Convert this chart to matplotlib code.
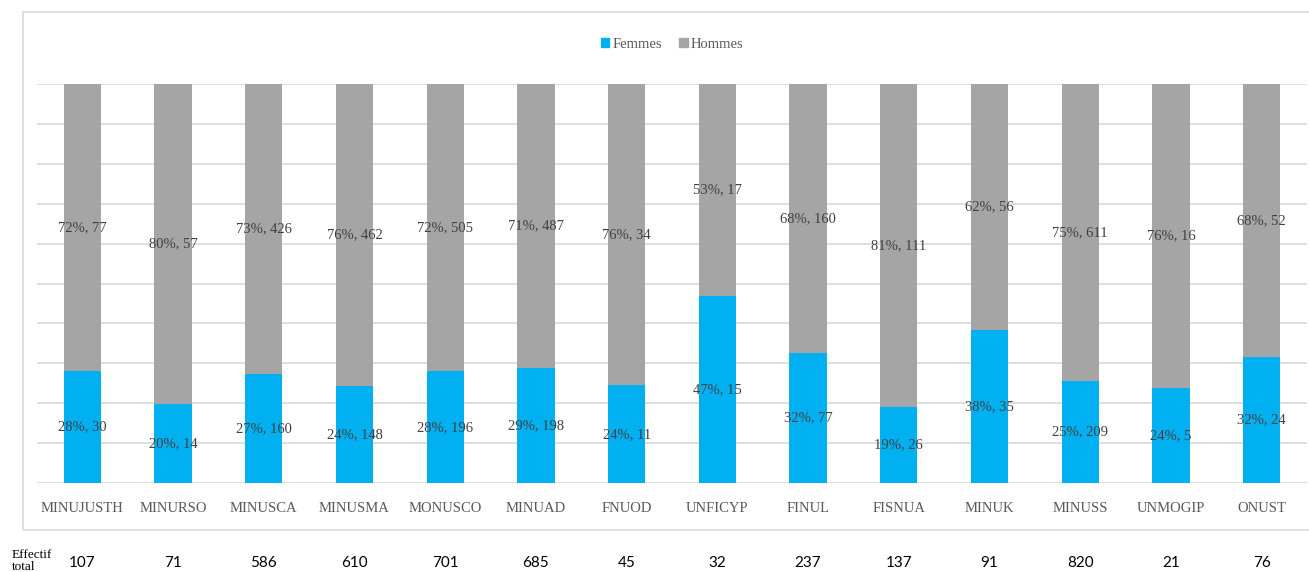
import matplotlib.pyplot as plt
import matplotlib.transforms as mtransforms
from matplotlib.patches import Rectangle, Patch

missions = ["MINUJUSTH", "MINURSO", "MINUSCA", "MINUSMA", "MONUSCO", "MINUAD", "FNUOD",
            "UNFICYP", "FINUL", "FISNUA", "MINUK", "MINUSS", "UNMOGIP", "ONUST"]
femmes = [30, 14, 160, 148, 196, 198, 11, 15, 77, 26, 35, 209, 5, 24]
hommes = [77, 57, 426, 462, 505, 487, 34, 17, 160, 111, 56, 611, 16, 52]

blue = "#00B0F0"
grey = "#A5A5A5"
serif = "Liberation Serif"

W, H = 1309, 572
fig = plt.figure(figsize=(W / 100, H / 100), dpi=100)
ax = fig.add_axes([37 / W, (H - 483) / H, 1270 / W, 399 / H])

totals = [f + h for f, h in zip(femmes, hommes)]
pf = [f / t for f, t in zip(femmes, totals)]
ph = [h / t for h, t in zip(hommes, totals)]
x = list(range(len(missions)))

ax.bar(x, pf, width=0.41, color=blue, zorder=2)
ax.bar(x, ph, width=0.41, bottom=pf, color=grey, zorder=2)

# data labels in the middle of each segment
for i in x:
    ax.text(i, pf[i] / 2, f"{round(pf[i] * 100)}%, {femmes[i]}", ha="center", va="center",
            fontsize=10.5, family=serif, color="#404040", zorder=3)
    ax.text(i, pf[i] + ph[i] / 2, f"{round(ph[i] * 100)}%, {hommes[i]}", ha="center", va="center",
            fontsize=10.5, family=serif, color="#404040", zorder=3)

ax.set_xlim(-0.5, len(missions) - 0.5)
ax.set_ylim(0, 1)
for k in range(11):
    ax.axhline(k / 10, color="#D9D9D9", lw=1.2, zorder=1)
ax.set_yticks([])
ax.set_xticks(x)
ax.set_xticklabels(missions, family=serif, fontsize=10.5, color="#595959")
ax.tick_params(axis="x", length=0, pad=14)
for s in ax.spines.values():
    s.set_visible(False)

# outer chart frame
fig.patches.append(Rectangle((23 / W, (H - 530) / H), 1.0, 518 / H, transform=fig.transFigure,
                             fill=False, edgecolor="#D9D9D9", lw=1.2))

handles = [Patch(color=blue, label="Femmes"), Patch(color=grey, label="Hommes")]
fig.legend(handles=handles, loc="center", bbox_to_anchor=(672 / W, (H - 44) / H), ncol=2,
           frameon=False, handlelength=0.6, handleheight=0.6, handletextpad=0.2,
           columnspacing=1.2, prop={"family": serif, "size": 10.5}, labelcolor="#595959")

# total row below the chart
trans = mtransforms.blended_transform_factory(ax.transData, fig.transFigure)
for i in x:
    ax.text(i, (H - 563) / H, str(totals[i]), transform=trans, ha="center", va="center",
            fontsize=11, family="Lato", color="black")
fig.text(12 / W, (H - 561) / H, "Effectif\ntotal", ha="left", va="center", fontsize=9.5,
         family=serif, color="black", linespacing=1.1)

fig.savefig("out.png", dpi=100)
